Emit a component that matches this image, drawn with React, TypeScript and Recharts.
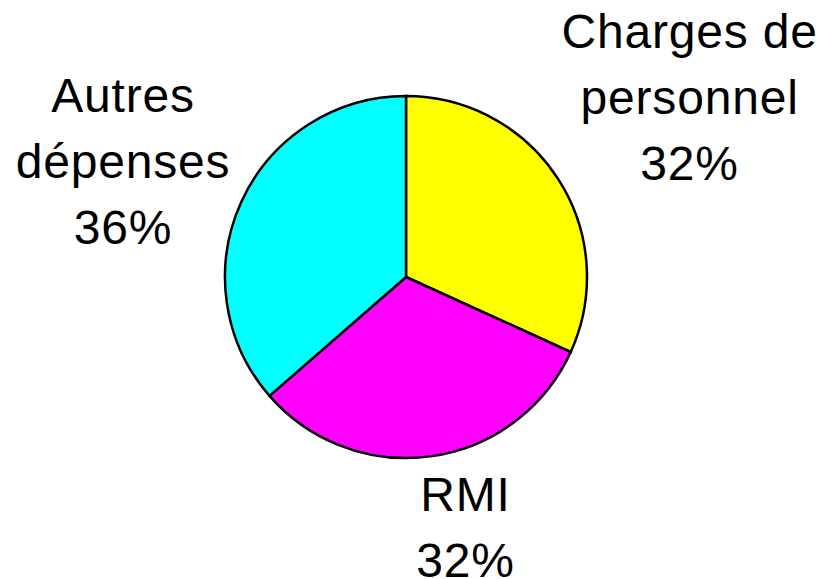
import React from 'react';
import { PieChart, Pie, Cell } from 'recharts';

const categories = ['Charges de personnel', 'RMI', 'Autres dépenses'];
const shares = [31.8, 31.8, 36.4];
const labelLines = [['Charges de', 'personnel'], ['RMI'], ['Autres', 'dépenses']];
const colors = ['#ffff00', '#ff00ff', '#00ffff'];

// label placement: distance from centre and angle nudge per slice
const labelRadius = [335, 259, 305];
const labelAngleShift = [-0.6, 5, 2.6];

const data = categories.map((name, i) => ({ name, value: shares[i] }));

const RADIAN = Math.PI / 180;
const LINE_H = 66;

const renderLabel = (props: any) => {
  const { cx, cy, midAngle, index, value } = props;
  const a = (midAngle + labelAngleShift[index]) * RADIAN;
  const r = labelRadius[index];
  const x = cx + r * Math.cos(a);
  const y = cy - r * Math.sin(a);
  const lines = [...labelLines[index], `${Math.round(value)}%`];
  const n = lines.length;
  return (
    <text
      x={x}
      y={y}
      textAnchor="middle"
      fill="#000"
      fontSize={48}
      letterSpacing={0.8}
      fontFamily="'Liberation Sans', Arial, sans-serif"
    >
      {lines.map((t, i) => (
        <tspan key={i} x={x} y={y + (i - (n - 1) / 2) * LINE_H + 15}>
          {t}
        </tspan>
      ))}
    </text>
  );
};

export default function App() {
  return (
    <div style={{ position: 'absolute', left: 0, top: 0, background: '#fff' }}>
      <PieChart width={824} height={579} margin={{ top: 0, right: 0, bottom: 0, left: 0 }}>
        <Pie
          data={data}
          dataKey="value"
          nameKey="name"
          cx={406}
          cy={277}
          outerRadius={181}
          startAngle={90}
          endAngle={-270}
          stroke="#000"
          strokeWidth={2.5}
          label={renderLabel}
          labelLine={false}
          isAnimationActive={false}
        >
          {data.map((d, i) => (
            <Cell key={d.name} fill={colors[i]} />
          ))}
        </Pie>
      </PieChart>
    </div>
  );
}
